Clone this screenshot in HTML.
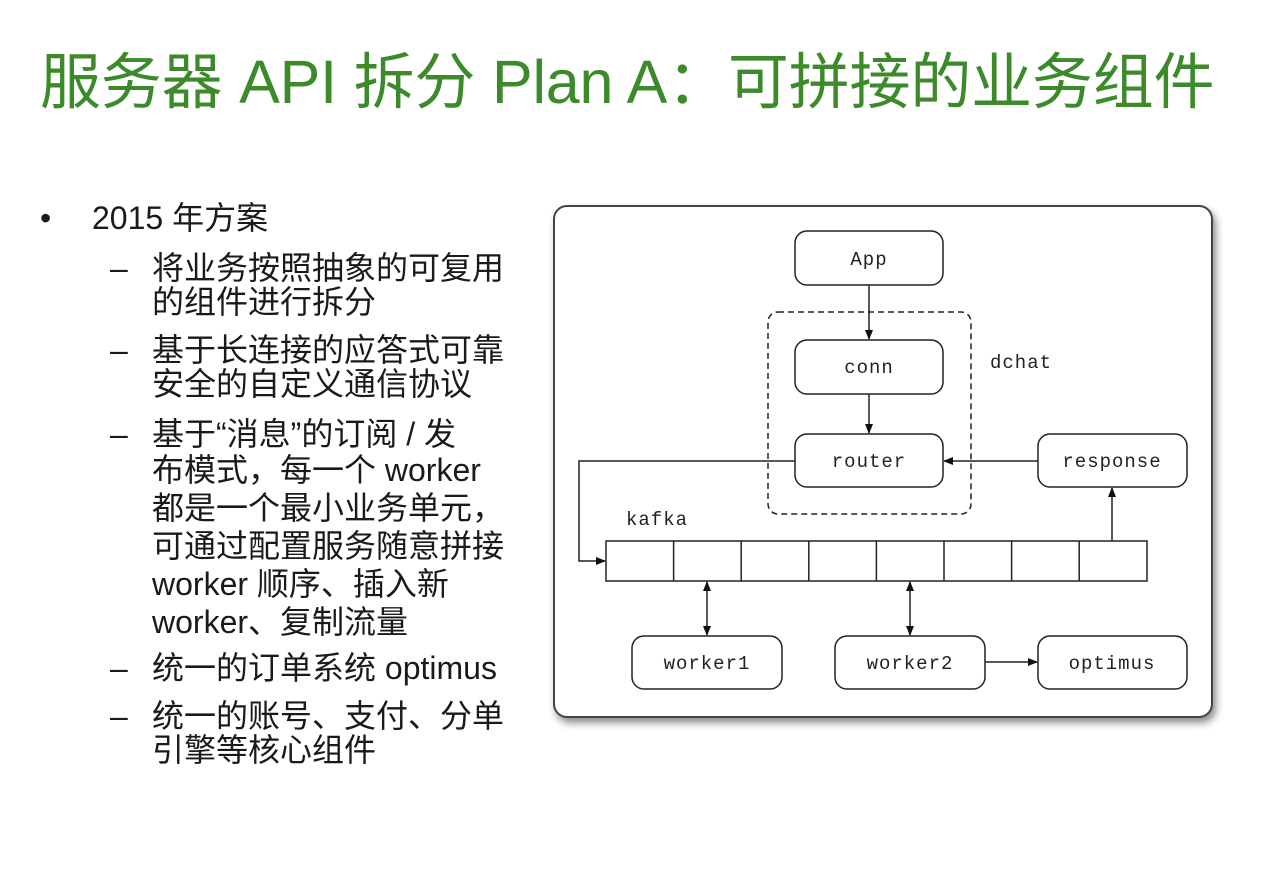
<!DOCTYPE html>
<html><head><meta charset="utf-8">
<style>
body{margin:0;width:1266px;height:892px;background:#fff;position:relative;overflow:hidden;font-family:"Liberation Sans","Noto Sans CJK SC",sans-serif;}
.t{position:absolute;left:40px;top:46px;font-size:61px;line-height:72px;color:#3c8a2a;white-space:nowrap;letter-spacing:-0.2px}
.l{position:absolute;font-size:32px;line-height:36px;color:#1a1a1a;white-space:nowrap}
.frame{position:absolute;left:553px;top:205px;width:660px;height:513px;border:2px solid #444;border-radius:14px;box-shadow:3px 5px 8px rgba(0,0,0,0.45);background:#fff;box-sizing:border-box}
svg{position:absolute;left:0;top:0}
svg text{font-family:"Liberation Mono","DejaVu Sans Mono",monospace;font-size:19px;fill:#222;letter-spacing:1px}
</style></head><body>
<div class="t">服务器 API 拆分 Plan A：可拼接的业务组件</div>
<div class="l" style="left:40px;top:200px">•</div>
<div class="l" style="left:92px;top:200px">2015 年方案</div>
<div class="l" style="left:110px;top:250px">–</div>
<div class="l" style="left:152px;top:250px">将业务按照抽象的可复用</div>
<div class="l" style="left:152px;top:284px">的组件进行拆分</div>
<div class="l" style="left:110px;top:332px">–</div>
<div class="l" style="left:152px;top:332px">基于长连接的应答式可靠</div>
<div class="l" style="left:152px;top:366px">安全的自定义通信协议</div>
<div class="l" style="left:110px;top:416px">–</div>
<div class="l" style="left:152px;top:416px">基于“消息”的订阅 / 发</div>
<div class="l" style="left:152px;top:452px">布模式，每一个 worker</div>
<div class="l" style="left:152px;top:490px">都是一个最小业务单元，</div>
<div class="l" style="left:152px;top:528px">可通过配置服务随意拼接</div>
<div class="l" style="left:152px;top:566px">worker 顺序、插入新</div>
<div class="l" style="left:152px;top:604px">worker、复制流量</div>
<div class="l" style="left:110px;top:650px">–</div>
<div class="l" style="left:152px;top:650px">统一的订单系统 optimus</div>
<div class="l" style="left:110px;top:698px">–</div>
<div class="l" style="left:152px;top:698px">统一的账号、支付、分单</div>
<div class="l" style="left:152px;top:732px">引擎等核心组件</div>
<div class="frame"></div>
<svg width="1266" height="892" viewBox="0 0 1266 892">
<defs><marker id="a" markerWidth="10" markerHeight="10" refX="9" refY="5" orient="auto" markerUnits="userSpaceOnUse"><path d="M0,1 L10,5 L0,9 z" fill="#111"/></marker>
<marker id="b" markerWidth="10" markerHeight="10" refX="1" refY="5" orient="auto" markerUnits="userSpaceOnUse"><path d="M10,1 L0,5 L10,9 z" fill="#111"/></marker></defs>
<g fill="none" stroke="#222" stroke-width="1.5">
<rect x="795" y="231" width="148" height="54" rx="12"/>
<rect x="795" y="340" width="148" height="54" rx="12"/>
<rect x="795" y="434" width="148" height="53" rx="12"/>
<rect x="1038" y="434" width="149" height="53" rx="12"/>
<rect x="768" y="312" width="203" height="202" rx="10" stroke-dasharray="6,4"/>
<rect x="632" y="636" width="150" height="53" rx="12"/>
<rect x="835" y="636" width="150" height="53" rx="12"/>
<rect x="1038" y="636" width="149" height="53" rx="12"/>
<rect x="606" y="541" width="541" height="40"/>
<path d="M673.6 541V581M741.2 541V581M808.8 541V581M876.4 541V581M944 541V581M1011.6 541V581M1079.2 541V581"/>
<path d="M869 285V339" marker-end="url(#a)"/>
<path d="M869 394V433" marker-end="url(#a)"/>
<path d="M1038 461H944" marker-end="url(#a)"/>
<path d="M795 461H579V561H605" marker-end="url(#a)"/>
<path d="M1112 541V488" marker-end="url(#a)"/>
<path d="M707 582V635" marker-start="url(#b)" marker-end="url(#a)"/>
<path d="M910 582V635" marker-start="url(#b)" marker-end="url(#a)"/>
<path d="M985 662H1037" marker-end="url(#a)"/>
</g>
<text x="869" y="265" text-anchor="middle">App</text>
<text x="869" y="373" text-anchor="middle">conn</text>
<text x="869" y="467" text-anchor="middle">router</text>
<text x="1112" y="467" text-anchor="middle">response</text>
<text x="707" y="669" text-anchor="middle">worker1</text>
<text x="910" y="669" text-anchor="middle">worker2</text>
<text x="1112" y="669" text-anchor="middle">optimus</text>
<text x="990" y="368">dchat</text>
<text x="626" y="525">kafka</text>
</svg>
</body></html>
